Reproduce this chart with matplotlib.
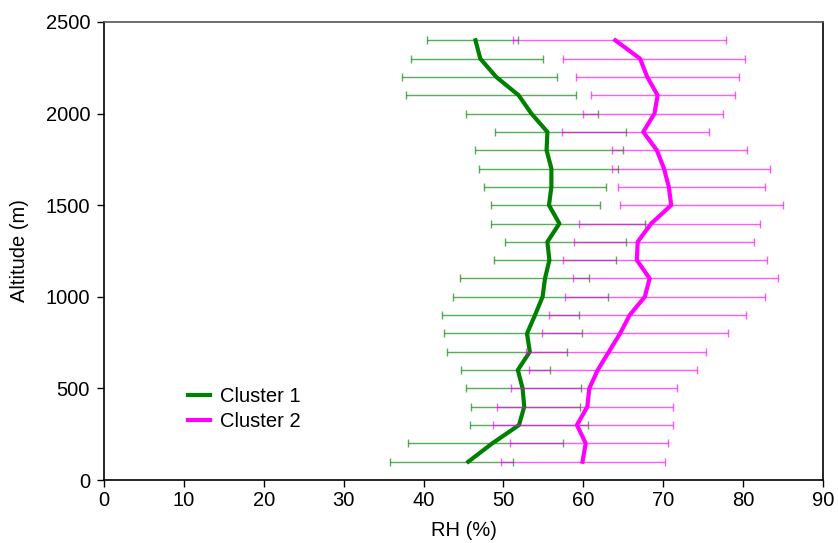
import matplotlib.pyplot as plt
import numpy as np

plt.rcParams['font.family'] = ['Liberation Sans', 'DejaVu Sans']

# altitude levels (m)
alt = np.arange(100, 2500, 100)

# cluster 1: mean RH and lower/upper bounds of the bars (%)
c1_mean = [45.6, 48.6, 51.95, 52.6, 52.4, 51.8, 53.3, 52.95, 53.95, 54.9, 55.2, 55.75,
           55.5, 57.0, 55.7, 56.0, 56.0, 55.4, 55.5, 53.5, 51.9, 49.1, 47.1, 46.5]
c1_lo = [35.75, 38.0, 45.8, 45.9, 45.3, 44.7, 42.9, 42.6, 42.3, 43.7, 44.6, 48.8,
         50.25, 48.5, 48.5, 47.6, 46.95, 46.5, 48.9, 45.3, 37.8, 37.25, 38.4, 40.45]
c1_hi = [51.2, 57.5, 60.6, 59.6, 59.7, 55.8, 58.0, 59.8, 59.5, 63.1, 60.7, 64.1,
         65.4, 67.75, 62.1, 62.9, 64.3, 65.0, 65.3, 61.8, 59.1, 56.7, 55.0, 51.8]

# cluster 2
c2_mean = [59.9, 60.3, 59.2, 60.5, 60.75, 61.8, 63.2, 64.6, 65.8, 67.7, 68.3, 66.7,
           66.8, 68.5, 71.0, 70.7, 70.1, 69.2, 67.5, 68.9, 69.3, 68.0, 67.1, 64.0]
c2_lo = [49.75, 50.8, 48.7, 49.2, 50.9, 53.25, 52.8, 54.8, 55.75, 57.7, 58.75, 57.4,
         58.8, 59.5, 64.6, 64.4, 63.6, 63.6, 57.3, 60.0, 60.9, 59.1, 57.4, 51.2]
c2_hi = [70.25, 70.6, 71.2, 71.25, 71.7, 74.25, 75.3, 78.1, 80.4, 82.75, 84.4, 83.0,
         81.4, 82.1, 85.0, 82.7, 83.4, 80.5, 75.7, 77.5, 78.95, 79.5, 80.25, 77.8]

fig = plt.figure(figsize=(8.38, 5.43), dpi=100)
ax = fig.add_axes([0.1241, 0.116, 0.8580, 0.8435])

for mean, lo, hi, col, lab in [(c1_mean, c1_lo, c1_hi, '#008000', 'Cluster 1'),
                               (c2_mean, c2_lo, c2_hi, '#FF00FF', 'Cluster 2')]:
    mean = np.array(mean)
    xerr = [mean - np.array(lo), np.array(hi) - mean]
    ax.errorbar(mean, alt, xerr=xerr, fmt='none', ecolor=col, elinewidth=1.0,
                capsize=3, capthick=1.0, alpha=0.65)
    ax.plot(mean, alt, color=col, lw=3, label=lab)

fs = 14.5
ax.set_xlim(0, 90)
ax.set_ylim(0, 2500)
ax.set_xticks(np.arange(0, 91, 10))
ax.set_yticks(np.arange(0, 2501, 500))
ax.tick_params(labelsize=fs, direction='out', length=5, width=1, pad=3)
ax.tick_params(axis='y', pad=5)
ax.set_xlabel('RH (%)', fontsize=fs, labelpad=8)
ax.set_ylabel('Altitude (m)', fontsize=fs, labelpad=12)
ax.spines['top'].set_color('#555555')
for s in ax.spines.values():
    s.set_linewidth(1.2)

ax.legend(loc='lower left', bbox_to_anchor=(0.106, 0.09), borderaxespad=0,
          frameon=False, fontsize=fs, handlelength=1.1, handletextpad=0.5,
          labelspacing=0.3)

fig.savefig('out.png', dpi=100)
